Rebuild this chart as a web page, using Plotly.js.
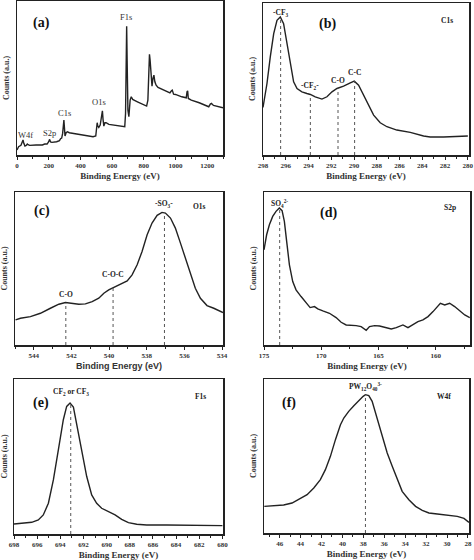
<!DOCTYPE html>
<html>
<head>
<meta charset="utf-8">
<script src="https://cdn.plot.ly/plotly-3.0.1.min.js"></script>
<style>html,body{margin:0;padding:0;background:#fff;}#chart{width:474px;height:560px;}</style>
</head>
<body>
<div id="chart"></div>
<script>
// ---- Data (binding energy in eV, counts in arbitrary units) ----
var surveyE = [0,10,25,33,38,43,50,58,65,70,80,120,160,175,190,200,206,212,220,250,268,275,282,288,293,296,299,303,310,318,330,400,480,497,502,506,510,516,525,532,536,539,543,548,555,562,580,650,680,685,688,690,692,695,700,706,714,721,730,760,800,818,826,832,836,840,846,852,858,864,870,878,890,930,965,975,980,988,1000,1040,1068,1073,1077,1081,1086,1100,1150,1210,1220,1227,1240,1270,1300];
var surveyC = [15,25,29,37,45,35,27,29,33,31,29,30,30,33,33,40,47,39,38,40,43,49,51,65,95,105,85,57,67,70,67,61,55,57,90,97,87,83,90,120,133,133,107,87,97,97,92,87,85,125,265,365,387,285,135,115,165,175,167,160,150,147,165,265,303,285,225,207,230,240,220,210,203,195,187,193,195,183,182,175,172,190,193,170,168,165,157,145,153,155,149,145,142];
var surveyLabels = ["W4f","S2p","C1s","O1s","F1s"];
var surveyLabelE = [55,202,300,517,685];
var surveyLabelC = [60,65,125,160,415];

var c1sE = [298,297.65,297.36,297.06,296.77,296.48,296.19,295.89,295.60,295.31,295.01,294.58,294.14,293.84,293.41,292.82,292.38,291.94,291.50,290.92,290.33,289.98,289.60,289.16,288.72,288.28,287.70,287.11,286.24,285.06,283.89,283.31,282.14,280.97,280];
var c1sC = [143,215,295,365,405,415,395,335,265,220,200,190,185,182,175,168,175,190,200,207,217,222,210,180,145,120,97,85,75,68,57,54,54,55,57];
var c1sPeakE = [296.45,293.84,291.41,289.95];
var c1sPeakC = [415,180,200,222];
var c1sPeakLabels = ["-CF<sub>3</sub>","-CF<sub>2</sub>-","C-O","C-C"];
var c1sPeakLabelC = [427,207,225,247];

var o1sE = [544.97,544.71,544.18,543.65,543.12,542.67,542.32,541.96,541.61,541.26,540.90,540.55,540.28,540.02,539.75,539.40,539.04,538.78,538.51,538.25,537.98,537.72,537.45,537.19,537.01,536.74,536.48,536.21,535.95,535.68,535.42,535.15,534.80,534.44,533.95];
var o1sC = [75,80,85,95,110,122,127,125,122,123,130,140,155,165,172,182,192,210,240,280,330,365,388,397,395,380,350,305,260,215,170,140,118,110,97];
var o1sPeakE = [542.30,539.79,537.06];
var o1sPeakC = [125,180,395];
var o1sPeakLabels = ["C-O","C-O-C","-SO<sub>3</sub>-"];
var o1sPeakLabelC = [152,210,422];

var s2pE = [175.0,174.77,174.53,174.24,173.95,173.66,173.42,173.22,173.02,172.78,172.49,172.20,171.76,171.32,170.97,170.59,170.30,169.86,169.28,168.70,168.26,167.82,167.38,166.95,166.51,166.07,165.78,165.34,164.90,164.32,163.88,163.44,162.86,162.42,161.99,161.55,161.11,160.67,160.23,159.94,159.59,159.21,158.78,158.34,157.90,157.46,157.02];
var s2pC = [285,330,360,385,400,410,402,370,310,240,190,165,145,125,112,115,108,102,95,82,68,60,60,58,55,44,55,58,57,52,48,52,60,52,62,70,75,85,100,110,125,120,125,115,102,90,82];
var s2pPeakE = [173.63];
var s2pPeakC = [410];
var s2pPeakLabels = ["SO<sub>4</sub><sup>2-</sup>"];
var s2pPeakLabelC = [425];

var f1sE = [698,697.19,696.47,695.90,695.47,695.03,694.60,694.17,693.74,693.45,693.16,692.87,692.59,692.15,691.72,691.29,690.86,690.43,689.85,689.27,688.70,688.12,687.40,686.54,684.81,681.93,680];
var f1sC = [30,32,35,42,57,92,162,252,342,382,392,380,332,252,172,117,92,77,67,57,44,34,29,27,27,26,25];
var f1sPeakE = [693.10];
var f1sPeakC = [392];
var f1sPeakLabels = ["CF<sub>2</sub> or CF<sub>3</sub>"];
var f1sPeakLabelC = [424];

var w4fE = [47.47,46.57,45.62,44.82,44.18,43.38,42.74,42.11,41.63,41.15,40.67,40.19,39.87,39.40,38.91,38.43,38.02,37.80,37.48,37.16,36.68,36.20,35.72,35.24,34.76,34.29,33.65,33.01,32.37,31.73,30.93,29.98,29.02,28.38,27.90];
var w4fC = [80,82,84,90,100,115,135,160,190,230,280,325,345,365,382,398,410,415,412,395,345,290,240,200,160,125,100,80,68,60,57,53,50,44,32];
var w4fPeakE = [37.80];
var w4fPeakC = [415];
var w4fPeakLabels = ["PW<sub>12</sub>O<sub>40</sub><sup>3-</sup>"];
var w4fPeakLabelC = [440];

var panelTags = ["(a)","(b)","(c)","(d)","(e)","(f)"];
var panelTitles = ["","C1s","O1s","S2p","F1s","W4f"];

// ---- Layout helpers ----
var W = 474, H = 560;
var boxes = [ // left, right, top, bottom in px
  [17,223,1,155],[263,469,3,155],
  [15,223,192,345],[264,470,192,345],
  [14,223,379,534],[264,469,379,533]
];
var xRanges = [[0,1300],[298,279.9],[545,533.95],[175,157],[698,679.95],[47.5,27.9]];
var yRanges = [[0,463],[0,457],[0,458],[0,458],[0,464],[0,462]];
var xDtick = [200,2,2,5,2,2];
var xMinor = [100,1,1,2.5,1,1];
var serif = "Liberation Serif, Times New Roman, serif";
var sans = "Liberation Sans, Arial, sans-serif";
var lineCol = "#222";

var layout = {
  width: W, height: H,
  margin: {l:0,r:0,t:0,b:0},
  paper_bgcolor: "#fff", plot_bgcolor: "#fff",
  showlegend: false,
  annotations: []
};

for (var i = 0; i < 6; i++) {
  var b = boxes[i];
  var sx = i === 0 ? "" : String(i+1);
  layout["xaxis"+sx] = {
    domain: [b[0]/W, b[1]/W],
    range: xRanges[i],
    anchor: "y"+sx,
    showline: true, linecolor: lineCol, linewidth: 1.5, mirror: true,
    showgrid: false, zeroline: false,
    ticks: "outside", ticklen: 3, tickwidth: 1, tickcolor: lineCol,
    dtick: xDtick[i], tick0: 0,
    minor: {dtick: xMinor[i], ticks: "outside", ticklen: 2, tickcolor: lineCol, showgrid: false},
    tickfont: {family: serif, size: 7, color: "#333", weight: "bold"},
    title: {text: "Binding Energy (eV)", standoff: 4,
            font: {family: i === 2 ? sans : serif, size: 9, color: "#333", weight: "bold"}}
  };
  layout["yaxis"+sx] = {
    domain: [1 - b[3]/H, 1 - b[2]/H],
    range: yRanges[i],
    anchor: "x"+sx,
    showline: true, linecolor: lineCol, linewidth: 1.5, mirror: true,
    showgrid: false, zeroline: false,
    showticklabels: false, ticks: "",
    title: {text: "Counts (a.u.)", standoff: 4,
            font: {family: serif, size: 8, color: "#333", weight: "bold"}}
  };
}

var traces = [];
function curve(idx, xs, ys) {
  var sx = idx === 0 ? "" : String(idx+1);
  traces.push({type: "scatter", mode: "lines", x: xs, y: ys,
    xaxis: "x"+sx, yaxis: "y"+sx, line: {color: lineCol, width: 1.4},
    hoverinfo: "skip", cliponaxis: true});
}
function peaks(idx, pe, pc, labels, lc) {
  var sx = idx === 0 ? "" : String(idx+1);
  for (var k = 0; k < pe.length; k++) {
    traces.push({type: "scatter", mode: "lines", x: [pe[k], pe[k]], y: [0, pc[k]],
      xaxis: "x"+sx, yaxis: "y"+sx, line: {color: "#555", width: 1, dash: "dot"},
      hoverinfo: "skip"});
    layout.annotations.push({xref: "x"+sx, yref: "y"+sx, x: pe[k], y: lc[k],
      text: labels[k], showarrow: false,
      font: {family: serif, size: 7.5, color: "#222", weight: "bold"}});
  }
}

curve(0, surveyE, surveyC);
for (var k = 0; k < surveyLabels.length; k++) {
  layout.annotations.push({xref: "x", yref: "y", x: surveyLabelE[k], y: surveyLabelC[k],
    text: surveyLabels[k], showarrow: false,
    font: {family: serif, size: 8.5, color: "#333"}});
}
curve(1, c1sE, c1sC); peaks(1, c1sPeakE, c1sPeakC, c1sPeakLabels, c1sPeakLabelC);
curve(2, o1sE, o1sC); peaks(2, o1sPeakE, o1sPeakC, o1sPeakLabels, o1sPeakLabelC);
curve(3, s2pE, s2pC); peaks(3, s2pPeakE, s2pPeakC, s2pPeakLabels, s2pPeakLabelC);
curve(4, f1sE, f1sC); peaks(4, f1sPeakE, f1sPeakC, f1sPeakLabels, f1sPeakLabelC);
curve(5, w4fE, w4fC); peaks(5, w4fPeakE, w4fPeakC, w4fPeakLabels, w4fPeakLabelC);

// panel tags and core-level titles (positions in axis fractions)
var tagPos = [[0.07,0.92],[0.26,0.93],[0.08,0.94],[0.26,0.93],[0.08,0.91],[0.08,0.91]];
var ttlPos = [null,[0.93,0.93],[0.93,0.95],[0.94,0.94],[0.93,0.93],[0.92,0.93]];
for (var i = 0; i < 6; i++) {
  var sx = i === 0 ? "" : String(i+1);
  layout.annotations.push({xref: "x"+sx+" domain", yref: "y"+sx+" domain",
    x: tagPos[i][0], y: tagPos[i][1], text: panelTags[i], showarrow: false,
    font: {family: serif, size: 14, color: "#111", weight: "bold"}});
  if (ttlPos[i]) {
    layout.annotations.push({xref: "x"+sx+" domain", yref: "y"+sx+" domain",
      x: ttlPos[i][0], y: ttlPos[i][1], text: panelTitles[i], showarrow: false,
      font: {family: serif, size: 7.5, color: "#222", weight: "bold"}});
  }
}

Plotly.newPlot("chart", traces, layout, {staticPlot: true, displayModeBar: false});
</script>
</body>
</html>
